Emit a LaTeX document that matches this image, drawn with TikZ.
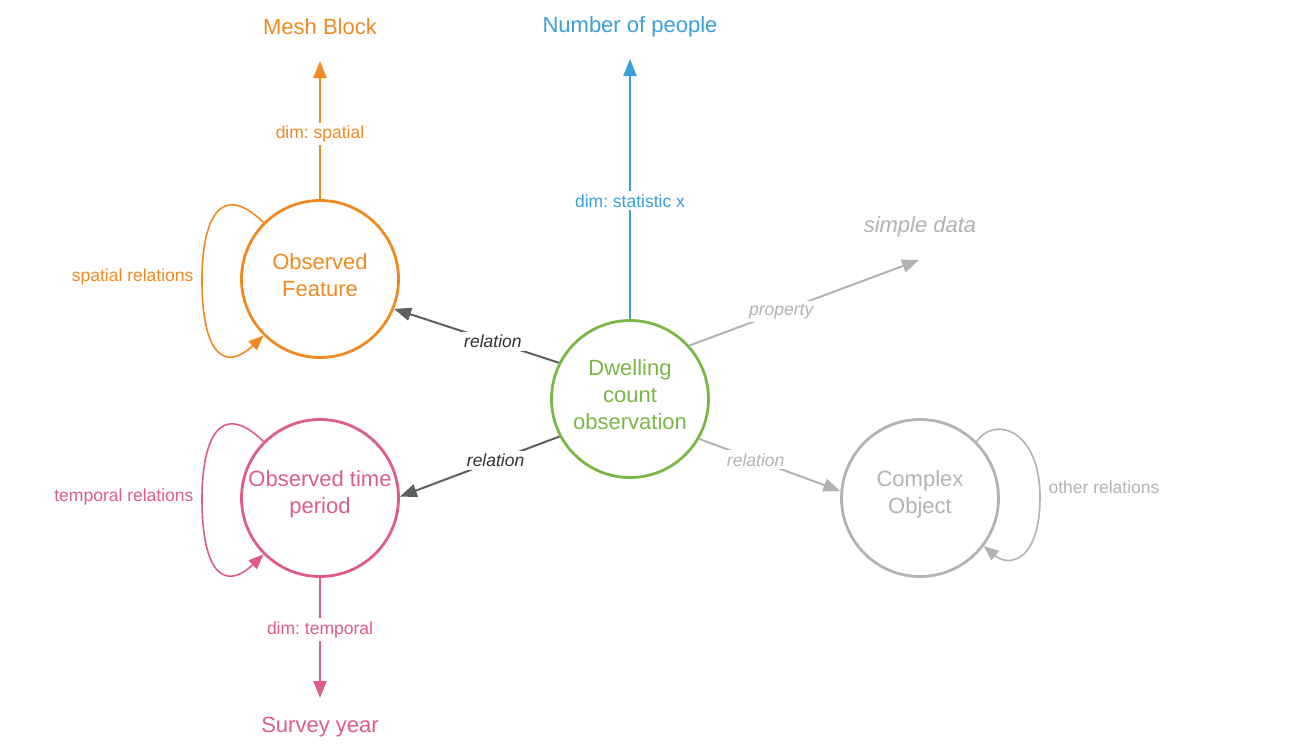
\documentclass[tikz,border=0pt]{standalone}
\usepackage{fontspec}
\setmainfont{Liberation Sans}
\usetikzlibrary{arrows.meta}

\definecolor{featorange}{HTML}{EF8A22}
\definecolor{peopleblue}{HTML}{3A9FDB}
\definecolor{obsgreen}{HTML}{7AB648}
\definecolor{timepink}{HTML}{DE5D88}
\definecolor{softgray}{HTML}{B3B3B3}
\definecolor{relgray}{HTML}{5E5E5E}
\definecolor{reltext}{HTML}{333333}

\begin{document}
\frenchspacing
\begin{tikzpicture}[x=1pt,y=-1pt,
    concept/.style={circle,draw,line width=2.8pt,minimum size=157pt,inner sep=0pt},
    inside/.style={align=center,yshift=4pt,font=\fontsize{22}{27}\selectfont},
    link/.style={line width=2pt,-{Triangle[length=17pt,width=13pt]}},
    loopy/.style={line width=1.6pt,-{Triangle[length=15pt,width=12pt]}},
    lbl/.style={fill=white,inner sep=3pt,font=\fontsize{17.5}{20}\selectfont},
    itlbl/.style={fill=white,inner sep=3pt,font=\fontsize{17.5}{20}\selectfont\itshape},
    big/.style={font=\fontsize{22}{26}\selectfont}]
  \useasboundingbox (0,0) rectangle (1297,750);

  % the four circles
  \node[concept,draw=obsgreen,
    label={[inside,text=obsgreen]center:Dwelling\\count\\observation}] (dwell) at (630,399) {};
  \node[concept,draw=featorange,
    label={[inside,text=featorange]center:Observed\\Feature}] (feat) at (320,279) {};
  \node[concept,draw=timepink,
    label={[inside,text=timepink]center:Observed time\\period}] (time) at (320,498) {};
  \node[concept,draw=softgray,
    label={[inside,text=softgray]center:Complex\\Object}] (cplx) at (920,498) {};

  % outer texts and arrow tips
  \node[big,text=featorange] (mesh) at (320,27) {Mesh Block};
  \node[big,text=peopleblue] (people) at (630,27) {Number of people};
  \node[big,text=timepink] (survey) at (320,727) {Survey year};
  \node[text=softgray,font=\fontsize{22}{26}\selectfont\itshape] (simple) at (920,227) {simple data};
  \coordinate (meshtip) at (320,61);
  \coordinate (peopletip) at (630,59);
  \coordinate (surveytip) at (320,698);
  \coordinate (simpletip) at (919,260);

  % dimensions
  \draw[link,featorange] (feat.north) -- node[lbl,pos=0.47] {dim: spatial} (meshtip);
  \draw[link,peopleblue] (dwell.north) -- node[lbl,pos=0.455] {dim: statistic x} (peopletip);
  \draw[link,timepink] (time.south) -- node[lbl,pos=0.43] {dim: temporal} (surveytip);

  % relations
  \draw[link,relgray] (dwell.153) -- node[itlbl,pos=0.4,text=reltext] {relation} (feat.-22);
  \draw[link,relgray] (dwell.208) -- node[itlbl,pos=0.4,text=reltext] {relation} (time.1);
  \draw[link,softgray] (dwell.-30) -- node[itlbl,pos=0.4] {relation} (cplx.175);
  \draw[link,softgray] (dwell.42) -- node[itlbl,pos=0.4] {property} (simpletip);

  % self loops
  \draw[loopy,featorange] (feat.135) .. controls (220,180) and (202,220) .. (202,280)
    .. controls (202,355) and (225,372) .. (feat.225);
  \draw[loopy,timepink] (time.135) .. controls (220,399) and (202,439) .. (202,499)
    .. controls (202,574) and (225,591) .. (time.225);
  \draw[loopy,softgray] (cplx.45) .. controls (995,415) and (1040,430) .. (1040,497)
    .. controls (1040,560) and (1010,568) .. (cplx.-37);
  \node[anchor=east,text=featorange,font=\fontsize{17.5}{20}\selectfont] (spatrel) at (197,277) {spatial relations};
  \node[anchor=east,text=timepink,font=\fontsize{17.5}{20}\selectfont] (temprel) at (197,497) {temporal relations};
  \node[anchor=west,text=softgray,font=\fontsize{17.5}{20}\selectfont] (otherrel) at (1045,487) {other relations};
\end{tikzpicture}
\end{document}
